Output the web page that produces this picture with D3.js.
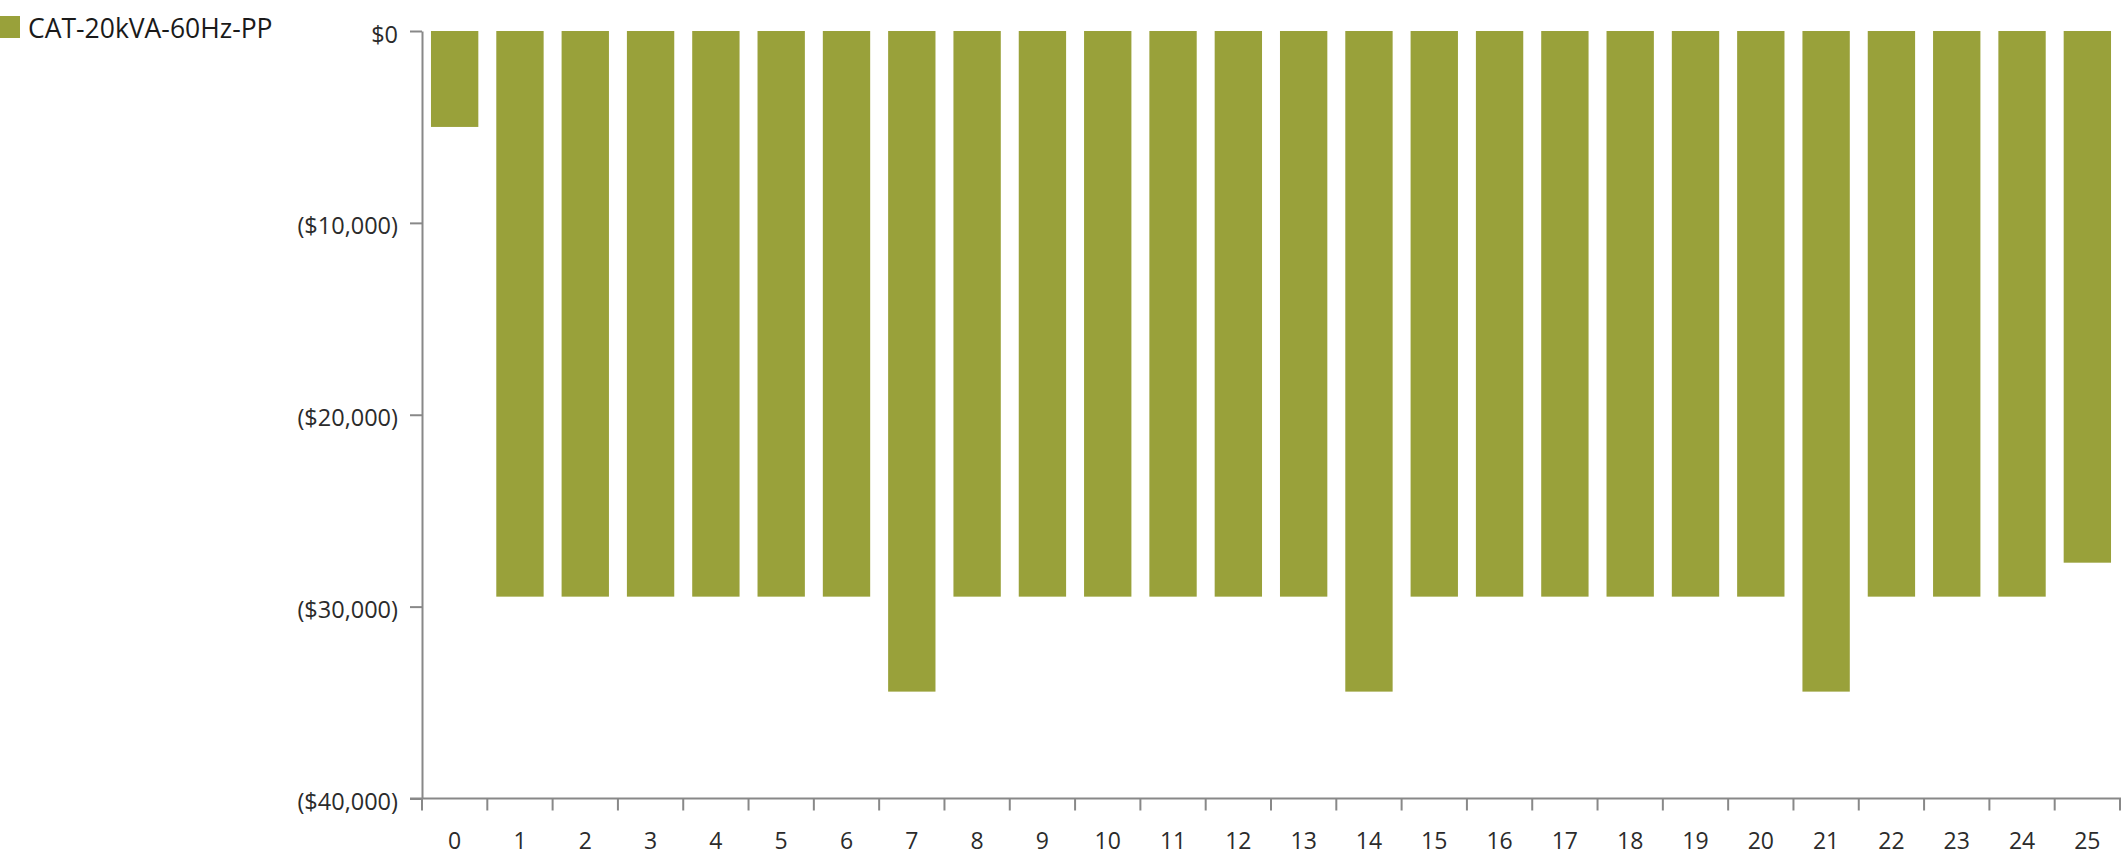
<!DOCTYPE html>
<html><head><meta charset="utf-8">
<script src="https://cdn.jsdelivr.net/npm/d3@7"></script>
<style>
html,body{margin:0;padding:0;background:#fff;}
svg{display:block;}
text{font-family:"Open Sans","Noto Sans",sans-serif;}
</style></head>
<body>
<script>
const seriesName = "CAT-20kVA-60Hz-PP";
const categories = ["0","1","2","3","4","5","6","7","8","9","10","11","12","13","14","15","16","17","18","19","20","21","22","23","24","25"];
const values = [-5000,-29480,-29480,-29480,-29480,-29480,-29480,-34430,-29480,-29480,-29480,-29480,-29480,-29480,-34430,-29480,-29480,-29480,-29480,-29480,-29480,-34430,-29480,-29480,-29480,-27710];
const yTicks = [0,-10000,-20000,-30000,-40000];
const barColor = "#99a13a";

(function(){
const W = 2121, H = 861;
const mL = 422, mR = 2120, mT = 31, mB = 798.5;
const svg = d3.select("body").append("svg").attr("width", W).attr("height", H);

const x = d3.scaleBand().domain(categories).range([mL, mR]).paddingInner(0.275).paddingOuter(0.1375);
const y = d3.scaleLinear().domain([-40000, 0]).range([mB, mT]);
const fmt = v => v === 0 ? "$0" : "($" + d3.format(",")(Math.abs(v)) + ")";

// bars
svg.append("g").selectAll("rect").data(values).join("rect")
  .attr("x", (d,i) => x(categories[i]))
  .attr("width", x.bandwidth())
  .attr("y", d => y(Math.max(0,d)))
  .attr("height", d => Math.abs(y(d) - y(0)))
  .attr("fill", barColor);

// y axis
const ya = svg.append("g").attr("transform", `translate(${mL},0)`)
  .call(d3.axisLeft(y).tickValues(yTicks).tickFormat(fmt).tickSize(12).tickPadding(12).tickSizeOuter(0));
ya.select(".domain").attr("stroke", "#888").attr("stroke-width", 2);
ya.selectAll(".tick line").attr("stroke", "#888").attr("stroke-width", 2);
ya.selectAll(".tick text").attr("fill", "#2b2b2b").attr("dy", "11px").style("font-size", "23.5px");

// x axis: line, ticks at band boundaries, labels at centres
const xa = svg.append("g").attr("transform", `translate(0,${mB})`);
xa.append("line").attr("x1", mL - 12).attr("x2", W).attr("y1", 0).attr("y2", 0)
  .attr("stroke", "#888").attr("stroke-width", 2);
const edges = d3.range(categories.length + 1);
const xe = d3.scaleLinear().domain([0, categories.length]).range([mL, mR]);
xa.selectAll("line.t").data(edges).join("line").attr("class","t")
  .attr("x1", d => xe(d)).attr("x2", d => xe(d)).attr("y1", 0).attr("y2", 12)
  .attr("stroke", "#888").attr("stroke-width", 2);
xa.selectAll("text").data(categories).join("text")
  .attr("x", d => x(d) + x.bandwidth()/2).attr("y", 50.5)
  .attr("text-anchor", "middle").attr("fill", "#2b2b2b").style("font-size", "23px")
  .text(d => d);

// legend
const lg = svg.append("g");
lg.append("rect").attr("x", 0).attr("y", 16).attr("width", 20).attr("height", 22).attr("fill", barColor);
lg.append("text").attr("x", 28).attr("y", 38).attr("fill", "#1a1a1a").style("font-size", "26.5px").text(seriesName);
})();
</script>
</body></html>
